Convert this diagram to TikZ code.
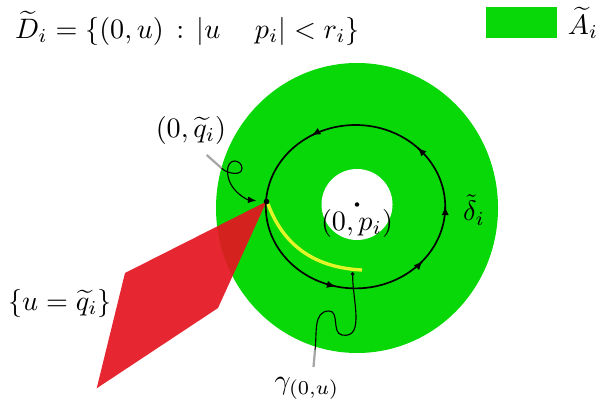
\documentclass[tikz,border=0pt]{standalone}
\usepackage{amssymb}
\usepackage{tikz}
\usetikzlibrary{arrows.meta}
\definecolor{annulus}{RGB}{8,216,8}
\definecolor{sheetred}{RGB}{228,22,32}
\definecolor{arcyellow}{RGB}{225,245,40}

\begin{document}
\begin{tikzpicture}[x=0.0125cm,y=0.0125cm,every node/.style={inner sep=1pt}]
\useasboundingbox (0,0) rectangle (599,402);
\fill[annulus] (357,194) ellipse (141 and 145);
\fill[white] (357,197.5) circle (35.5);
\coordinate (apex) at (266.5,200.5);
\fill[sheetred,opacity=0.93] (apex) -- (125,129) -- (96.7,13.7) -- (218,94) -- cycle;
\draw[semithick] (355.5,195.3) ellipse (89.7 and 81.7);
\foreach \a in {119,46,0,-42,-103}
{\draw[semithick,-{Latex[length=3.2pt,width=2.6pt]}] (355.5,195.3) ++(\a:89.7 and 81.7) -- ++(\a+90:0.6);}
\draw[arcyellow,line width=1.2pt] (268,198) .. controls (285,152) and (320,134) .. (362,132);
\fill (357,197.5) circle (0.8pt);
\fill (apex) circle (1pt);
\coordinate (gdot) at (352.7,128);
\fill (gdot) circle (0.7pt);

\node (dlab) at (187.5,374) {$\widetilde{D}_i=\{(0,u)\,:\,|u\mathbin{\phantom{-}}p_i|<r_i\}$};
\fill[annulus] (486,364) rectangle (557,395.3);
\node (alab) at (583,379) {$\widetilde{A}_i$};
\node (qlab) at (191,272) {$(0,\widetilde{q}_i)$};
\node (plab) at (357,179) {$(0,p_i)$};
\node (dellab) at (474,192) {$\tilde{\delta}_i$};
\node (ulab) at (60,99) {$\{u=\widetilde{q}_i\}$};
\node (glab) at (307,14) {$\gamma_{(0,u)}$};

% curve from (0,q_i) to the apex
\coordinate (qtail) at (206.7,247);
\coordinate (qloop) at (221.7,233.7);
\draw[gray!70,thick] (qtail) -- (qloop);
\draw[-{Latex[length=3pt,width=2.4pt]},shorten >=3.6pt] (qloop) to[out=-45,in=-90] (242,233.7) to[out=90,in=0] (234.5,241)
  to[out=180,in=90] (227.5,231) to[out=-90,in=175] (apex);
% curve from gamma to its end point
\coordinate (gtail) at (313.5,35);
\coordinate (gwig) at (315,52);
\draw[gray!70,thick] (gtail) -- (gwig);
\draw (gwig) to[out=82,in=180] (329,91) to[out=0,in=170] (342,67) to[out=-10,in=-92] (gdot);

\end{tikzpicture}
\end{document}
